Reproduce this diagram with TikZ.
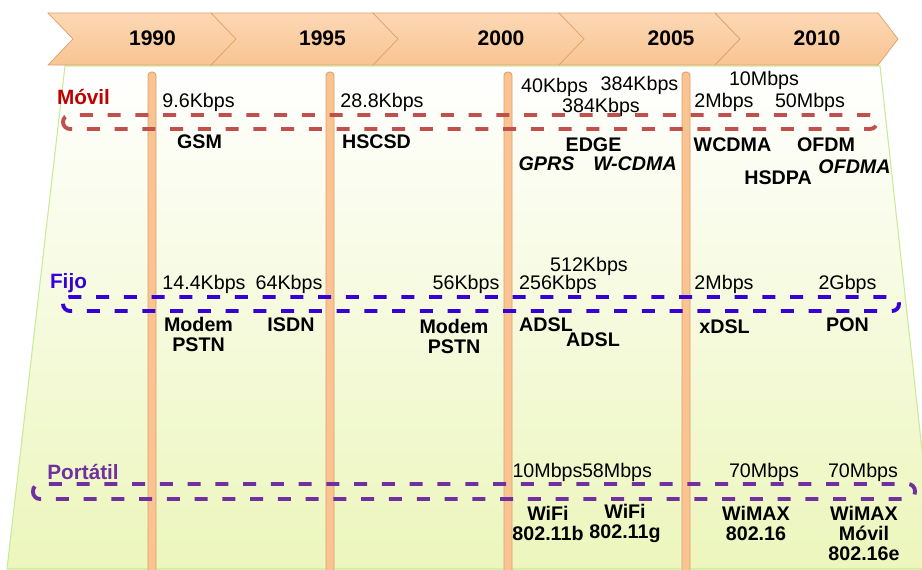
\documentclass[tikz,border=0pt]{standalone}
\usepackage{fontspec}
\setmainfont{Liberation Sans}
\definecolor{peach}{RGB}{249,196,146}
\definecolor{peachtop}{RGB}{252,216,180}
\definecolor{peachedge}{RGB}{222,160,105}
\definecolor{movilred}{RGB}{192,0,0}
\definecolor{movilline}{RGB}{192,80,77}
\definecolor{fijoblue}{RGB}{55,0,215}
\definecolor{portpurple}{RGB}{112,48,160}
\definecolor{panelmid}{RGB}{252,252,222}
\definecolor{panelbot}{RGB}{236,246,188}
\definecolor{panelline}{RGB}{205,232,150}
\begin{document}
\begin{tikzpicture}[x=0.02cm, y=-0.02cm,
    every node/.style={inner sep=0pt},
    rate/.style={font=\fontsize{11.2}{12}\selectfont},
    tech/.style={font=\fontsize{11.2}{11.4}\selectfont\bfseries, align=center},
    techit/.style={tech, font=\fontsize{11.2}{11.4}\selectfont\bfseries\itshape},
    yearlbl/.style={font=\fontsize{12}{12}\selectfont\bfseries},
    catlbl/.style={font=\fontsize{11.8}{12}\selectfont\bfseries},
    pole/.style={fill=peach, draw=peachedge, line width=0.5pt, rounded corners=2pt},
    lane/.style={dash pattern=on 7.4pt off 8.4pt, line width=2.2pt, rounded corners=4pt}]
\useasboundingbox (0,0) rectangle (922,569);
\shade[top color=white, middle color=panelmid, bottom color=panelbot, draw=panelline, line width=0.6pt]
  (65,66) -- (880,66) -- (935,569) -- (7,569) -- cycle;
\foreach \a/\b/\c in {48/211/237, 211/373/399, 373/559/586, 559/715/740, 715/878/898}
  \shade[top color=peachtop, bottom color=peach, draw=peachedge, line width=0.4pt]
    (\a,13) -- (\b,13) -- (\c,39) -- (\b,65) -- (\a,65) -- ({\a+25},39) -- cycle;
\foreach \x/\t in {152.5/1990, 322.5/1995, 501/2000, 671/2005, 817/2010}
  \node[yearlbl] (y\t) at (\x,38) {\t};
\foreach \x in {152,330,508,686}
  \draw[pole] ({\x-4},72) rectangle ({\x+4},580);
\draw[lane, movilline] (63,115) rectangle (877,129);
\draw[lane, fijoblue] (63,297) rectangle (899,311);
\draw[lane, portpurple] (33,484) rectangle (915,499);
\node[catlbl, movilred] (movil) at (83.5,97) {Móvil};
\node[catlbl, fijoblue] (fijo) at (68.5,283) {Fijo};
\node[catlbl, portpurple] (portatil) at (83,472) {Portátil};
\node[rate] (r96) at (198.5,102) {9.6Kbps};
\node[tech] (gsm) at (199.5,142) {GSM};
\node[rate] (r288) at (382,102) {28.8Kbps};
\node[tech] (hscsd) at (376.5,142) {HSCSD};
\node[rate] (r40k) at (554.5,87) {40Kbps};
\node[rate] (r384a) at (639.5,85) {384Kbps};
\node[rate] (r384b) at (601,107) {384Kbps};
\node[tech] (edge) at (593.5,145) {EDGE};
\node[techit] (gprs) at (546.5,164) {GPRS};
\node[techit] (wcdmab) at (635,164) {W-CDMA};
\node[rate] (r10m) at (764,80) {10Mbps};
\node[rate] (r2m) at (724,102) {2Mbps};
\node[rate] (r50m) at (810,102) {50Mbps};
\node[tech] (wcdma) at (732.5,145) {WCDMA};
\node[tech] (ofdm) at (826,145) {OFDM};
\node[tech] (hsdpa) at (778,178) {HSDPA};
\node[techit] (ofdma) at (854.5,167) {OFDMA};
\node[rate] (r144) at (204,284) {14.4Kbps};
\node[rate] (r64k) at (289,284) {64Kbps};
\node[tech] (pstna) at (198.5,334) {Modem\\PSTN};
\node[tech] (isdn) at (291,325) {ISDN};
\node[rate] (r56k) at (466,284) {56Kbps};
\node[tech] (pstnb) at (454,336) {Modem\\PSTN};
\node[rate] (r512) at (589,266) {512Kbps};
\node[rate] (r256) at (558,284) {256Kbps};
\node[tech] (adsla) at (546,325) {ADSL};
\node[tech] (adslb) at (593,340) {ADSL};
\node[rate] (r2mf) at (724,284) {2Mbps};
\node[rate] (r2g) at (847.5,284) {2Gbps};
\node[tech] (xdsl) at (724.5,327) {xDSL};
\node[tech] (pon) at (847.5,325) {PON};
\node[rate] (r10mp) at (547.5,472) {10Mbps};
\node[rate] (r58m) at (617,472) {58Mbps};
\node[tech] (wifib) at (548,523) {WiFi\\802.11b};
\node[tech] (wifig) at (625,523) {WiFi\\802.11g};
\node[rate] (r70a) at (764,472) {70Mbps};
\node[rate] (r70b) at (863,472) {70Mbps};
\node[tech] (wimax) at (756,523) {WiMAX\\802.16};
\node[tech] (wimaxm) at (864,533) {WiMAX\\Móvil\\802.16e};
\end{tikzpicture}
\end{document}
